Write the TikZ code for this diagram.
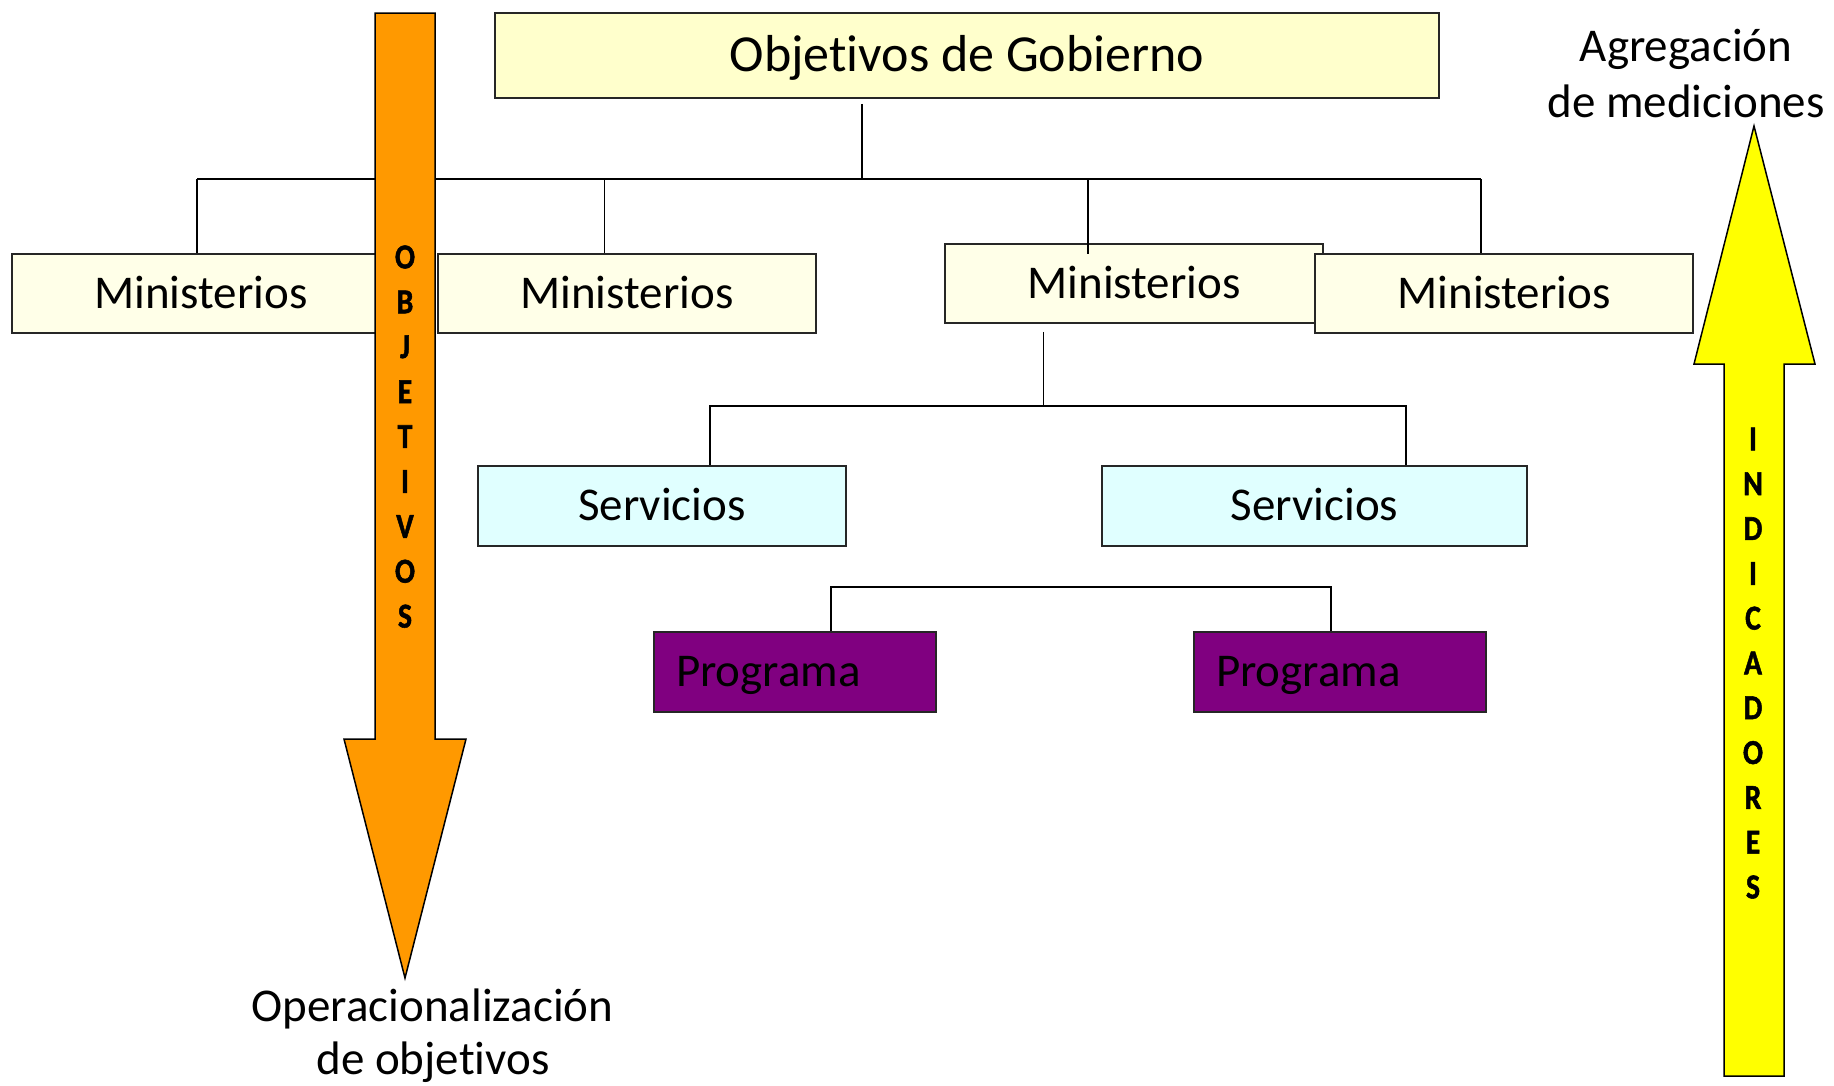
\documentclass[tikz,border=0pt]{standalone}
\usepackage{fontspec}
\usepackage{graphicx}
\setmainfont{Carlito}[Ligatures=NoCommon]
\newfontfamily\vfont{Carlito}[Ligatures=NoCommon, BoldFeatures={FakeBold=1.5}]
\usetikzlibrary{calc}
\definecolor{gobfill}{HTML}{FFFFCC}
\definecolor{minfill}{HTML}{FFFFE8}
\definecolor{serfill}{HTML}{E0FFFF}
\definecolor{progfill}{HTML}{800080}
\definecolor{orangeA}{HTML}{FF9900}
\definecolor{yellowA}{HTML}{FFFF00}
\newcommand{\vlet}[1]{\scalebox{0.85}[1]{#1}}
\begin{document}
\begin{tikzpicture}[x=1pt,y=-1pt,
  box/.style={draw=black!85, line width=1.6pt, inner sep=0pt, text height=29pt, text depth=0pt,
              font=\fontsize{47}{56}\selectfont, minimum height=80pt},
  minbox/.style={box, fill=minfill, minimum width=378pt, minimum height=79pt},
  serbox/.style={box, fill=serfill},
  progbox/.style={box, fill=progfill, align=left, inner xsep=22pt},
  link/.style={draw=black, line width=1.8pt},
  bigarrow/.style={draw=black, line width=1.5pt, line join=miter},
  vletter/.style={font=\vfont\bfseries\fontsize{35}{35}\selectfont, inner sep=0pt},
  lbl/.style={font=\fontsize{47}{56}\selectfont, inner sep=0pt, anchor=base}]
\useasboundingbox (0,0) rectangle (1834,1085);

% boxes
\node[box, fill=gobfill, minimum width=944pt, minimum height=85pt, text height=32pt,
      font=\fontsize{52}{60}\selectfont] (gob) at (967,55.5) {Objetivos de Gobierno};
\node[minbox] (m1) at (201,293.5) {Ministerios};
\node[minbox] (m2) at (627,293.5) {Ministerios};
\node[minbox] (m3) at (1134,283.5) {Ministerios};
\node[minbox] (m4) at (1504,293.5) {Ministerios};
\node[serbox, minimum width=368pt] (s1) at (662,506) {Servicios};
\node[serbox, minimum width=425pt] (s2) at (1314.5,506) {Servicios};
\node[progbox, text width=238pt] (p1) at (795,672) {Programa};
\node[progbox, text width=248pt] (p2) at (1340,672) {Programa};

% connectors
\coordinate (j0) at (862,179);
\coordinate (b1) at (197,179);
\coordinate (b2) at (604.5,179);
\coordinate (b3) at (1088,179);
\coordinate (b4) at (1481,179);
\draw[link] ([yshift=-5pt]gob.south -| j0) -- (j0);
\draw[link] (b1) -- (b4);
\draw[link] (b1) -- (b1 |- m1.north);
\draw[link] (b2) -- (b2 |- m2.north);
\draw[link] (b3) -- ([yshift=-11pt]b3 |- m3.north);
\draw[link] (b4) -- (b4 |- m4.north);

\coordinate (c0) at (1043.5,406);
\coordinate (c1) at (710,406);
\coordinate (c2) at (1406,406);
\draw[link] ([yshift=-8pt]m3.south -| c0) -- (c0);
\draw[link] (c1 |- s1.north) -- (c1) -- (c2) -- (c2 |- s2.north);

\coordinate (d1) at (831,587);
\coordinate (d2) at (1331,587);
\draw[link] (d1 |- p1.north) -- (d1) -- (d2) -- (d2 |- p2.north);

% orange arrow
\draw[bigarrow, fill=orangeA] (375,13) -- (435,13) -- (435,739) -- (466,739) -- (405,978)
  -- (344,739) -- (375,739) -- cycle;
\foreach \l [count=\i] in {O,B,J,E,T,I,V,O,S}
  \node[vletter] (ob\i) at (405,{257+44.9*(\i-1)}) {\vlet{\l}};

% yellow arrow
\draw[bigarrow, fill=yellowA] (1724,1076) -- (1724,364) -- (1694,364) -- (1754,126)
  -- (1815,364) -- (1784,364) -- (1784,1076) -- cycle;
\foreach \l [count=\i] in {I,N,D,I,C,A,D,O,R,E,S}
  \node[vletter] (in\i) at (1753,{439+44.8*(\i-1)}) {\vlet{\l}};

% labels
\node[lbl] (op1) at (432.5,1021) {Operacionalización};
\node[lbl] (op2) at (433,1074) {de objetivos};
\node[lbl] (ag1) at (1686,61) {Agregación};
\node[lbl] (ag2) at (1686,117) {de mediciones};
\end{tikzpicture}
\end{document}
